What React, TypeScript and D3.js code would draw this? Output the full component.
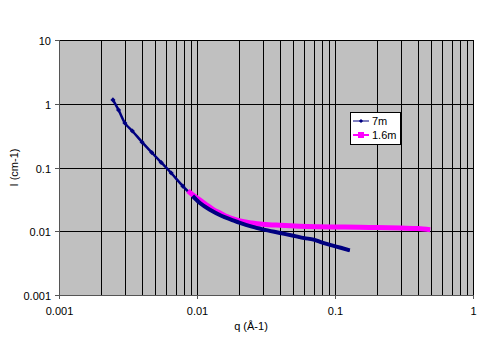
import { useEffect, useRef } from 'react';
import * as d3 from 'd3';

// Series (q in Å-1, I in cm-1)
const q7m = [0.00246, 0.0027, 0.0030, 0.0034, 0.0040, 0.0047, 0.0055, 0.0065, 0.0079, 0.0093, 0.0105, 0.0125, 0.015, 0.018, 0.0205, 0.025, 0.030, 0.040, 0.050, 0.060, 0.070, 0.078, 0.095, 0.110, 0.128];
const i7m = [1.15, 0.8, 0.5, 0.374, 0.25, 0.172, 0.12, 0.082, 0.051, 0.0357, 0.0277, 0.0215, 0.0175, 0.015, 0.0135, 0.0118, 0.0107, 0.0094, 0.0085, 0.0078, 0.0074, 0.0068, 0.0060, 0.0055, 0.0050];

const q16m = [0.0086, 0.0095, 0.0105, 0.012, 0.0135, 0.0147, 0.0165, 0.0185, 0.0205, 0.025, 0.030, 0.040, 0.055, 0.075, 0.10, 0.15, 0.2, 0.3, 0.4, 0.49];
const i16m = [0.043, 0.036, 0.031, 0.025, 0.021, 0.0193, 0.017, 0.0155, 0.0145, 0.0135, 0.0129, 0.0124, 0.012, 0.0118, 0.0117, 0.0116, 0.0114, 0.0112, 0.011, 0.0106];

const xTicks = [0.001, 0.01, 0.1, 1];
const yTicks = [0.001, 0.01, 0.1, 1, 10];
const seriesNames = ['7m', '1.6m'];

const W = 499;
const H = 343;
const MARGIN = { top: 40, right: 26, bottom: 48, left: 59 };
const FONT = 'Liberation Sans, Arial, sans-serif';

export default function App() {
  const svgRef = useRef<SVGSVGElement>(null);

  useEffect(() => {
    if (!svgRef.current) return;
    const svg = d3.select(svgRef.current);
    svg.selectAll('*').remove();

    const innerW = W - MARGIN.left - MARGIN.right;
    const innerH = H - MARGIN.top - MARGIN.bottom;

    const x = d3.scaleLog().domain([0.001, 1]).range([0, innerW]);
    const y = d3.scaleLog().domain([0.001, 10]).range([innerH, 0]);

    svg.append('rect').attr('width', W).attr('height', H).attr('fill', '#fff');

    const g = svg.append('g').attr('transform', `translate(${MARGIN.left},${MARGIN.top})`);

    // plot area
    g.append('rect').attr('width', innerW).attr('height', innerH).attr('fill', '#c0c0c0');

    // vertical grid at every minor tick
    const minor: number[] = [];
    for (let e = -3; e < 0; e++) {
      for (let k = 1; k <= 9; k++) minor.push(k * Math.pow(10, e));
    }
    minor.push(1);
    g.selectAll('.vgrid')
      .data(minor)
      .enter()
      .append('line')
      .attr('x1', (d) => Math.round(x(d)) + 0.5)
      .attr('x2', (d) => Math.round(x(d)) + 0.5)
      .attr('y1', 0)
      .attr('y2', innerH)
      .attr('stroke', '#000')
      .attr('stroke-width', 1);

    // horizontal grid at decades
    g.selectAll('.hgrid')
      .data(yTicks)
      .enter()
      .append('line')
      .attr('x1', 0)
      .attr('x2', innerW)
      .attr('y1', (d) => Math.round(y(d)) + 0.5)
      .attr('y2', (d) => Math.round(y(d)) + 0.5)
      .attr('stroke', '#000')
      .attr('stroke-width', 1);

    // axes
    g.append('line')
      .attr('x1', 0.5).attr('x2', 0.5).attr('y1', 0).attr('y2', innerH)
      .attr('stroke', '#555');
    g.append('line')
      .attr('x1', 0).attr('x2', innerW).attr('y1', innerH + 0.5).attr('y2', innerH + 0.5)
      .attr('stroke', '#555');

    yTicks.forEach((t) => {
      const yy = Math.round(y(t)) + 0.5;
      g.append('line').attr('x1', -4).attr('x2', 0).attr('y1', yy).attr('y2', yy).attr('stroke', '#555');
      g.append('text')
        .attr('x', -8)
        .attr('y', yy + 4)
        .attr('text-anchor', 'end')
        .attr('font-family', FONT)
        .attr('font-size', '11px')
        .attr('fill', '#000')
        .text(String(t));
    });

    xTicks.forEach((t) => {
      const xx = Math.round(x(t)) + 0.5;
      g.append('line').attr('x1', xx).attr('x2', xx).attr('y1', innerH).attr('y2', innerH + 4).attr('stroke', '#555');
      g.append('text')
        .attr('x', xx)
        .attr('y', innerH + 20)
        .attr('text-anchor', 'middle')
        .attr('font-family', FONT)
        .attr('font-size', '11px')
        .attr('fill', '#000')
        .text(String(t));
    });

    // axis titles
    g.append('text')
      .attr('x', innerW / 2 - 15)
      .attr('y', innerH + 35)
      .attr('text-anchor', 'middle')
      .attr('font-family', FONT)
      .attr('font-size', '11px')
      .text('q (Å-1)');

    g.append('text')
      .attr('transform', 'rotate(-90)')
      .attr('x', -(innerH / 2))
      .attr('y', -41)
      .attr('text-anchor', 'middle')
      .attr('font-family', FONT)
      .attr('font-size', '11px')
      .text('I (cm-1)');

    const plot = g.append('g');

    const line = d3.line<[number, number]>().x((d) => x(d[0])).y((d) => y(d[1])).curve(d3.curveMonotoneX);
    const pts16 = q16m.map((q, i) => [q, i16m[i]] as [number, number]);
    const pts7 = q7m.map((q, i) => [q, i7m[i]] as [number, number]);

    // 7m series (thin part with markers)
    plot.append('path')
      .datum(pts7)
      .attr('d', line)
      .attr('fill', 'none')
      .attr('stroke', '#000080')
      .attr('stroke-width', 2.5);

    // 1.6m series
    plot.append('path')
      .datum(pts16)
      .attr('d', line)
      .attr('fill', 'none')
      .attr('stroke', '#ff00ff')
      .attr('stroke-width', 5);

    // tail of 7m drawn broader (noisy data), on top of magenta
    plot.append('path')
      .datum(pts7.filter((d) => d[0] >= 0.0086))
      .attr('d', line)
      .attr('fill', 'none')
      .attr('stroke', '#000080')
      .attr('stroke-width', 4);

    plot.selectAll('.m7')
      .data(pts7.filter((d) => d[0] < 0.0086))
      .enter()
      .append('rect')
      .attr('x', (d) => x(d[0]) - 1.8)
      .attr('y', (d) => y(d[1]) - 1.8)
      .attr('width', 3.6)
      .attr('height', 3.6)
      .attr('transform', (d) => `rotate(45,${x(d[0])},${y(d[1])})`)
      .attr('fill', '#000080');

    // legend
    const lg = svg.append('g').attr('transform', 'translate(350,112)');
    lg.append('rect')
      .attr('x', 0.5).attr('y', 0.5).attr('width', 50).attr('height', 32)
      .attr('fill', '#fff').attr('stroke', '#000').attr('stroke-width', 1);
    const colors = ['#000080', '#ff00ff'];
    seriesNames.forEach((name, i) => {
      const ly = 9 + i * 14;
      lg.append('line')
        .attr('x1', 3).attr('x2', 19).attr('y1', ly).attr('y2', ly)
        .attr('stroke', colors[i]).attr('stroke-width', i === 0 ? 1 : 2);
      if (i === 0) {
        lg.append('rect')
          .attr('x', 9.5).attr('y', ly - 1.5).attr('width', 3).attr('height', 3)
          .attr('transform', `rotate(45,11,${ly})`)
          .attr('fill', colors[i]);
      } else {
        lg.append('rect')
          .attr('x', 8).attr('y', ly - 3).attr('width', 6).attr('height', 6)
          .attr('fill', colors[i]);
      }
      lg.append('text')
        .attr('x', 22)
        .attr('y', ly + 4)
        .attr('font-family', FONT)
        .attr('font-size', '11px')
        .attr('fill', '#000')
        .text(name);
    });
  }, []);

  return (
    <svg
      ref={svgRef}
      width={W}
      height={H}
      style={{ position: 'fixed', left: 0, top: 0, display: 'block' }}
    />
  );
}
